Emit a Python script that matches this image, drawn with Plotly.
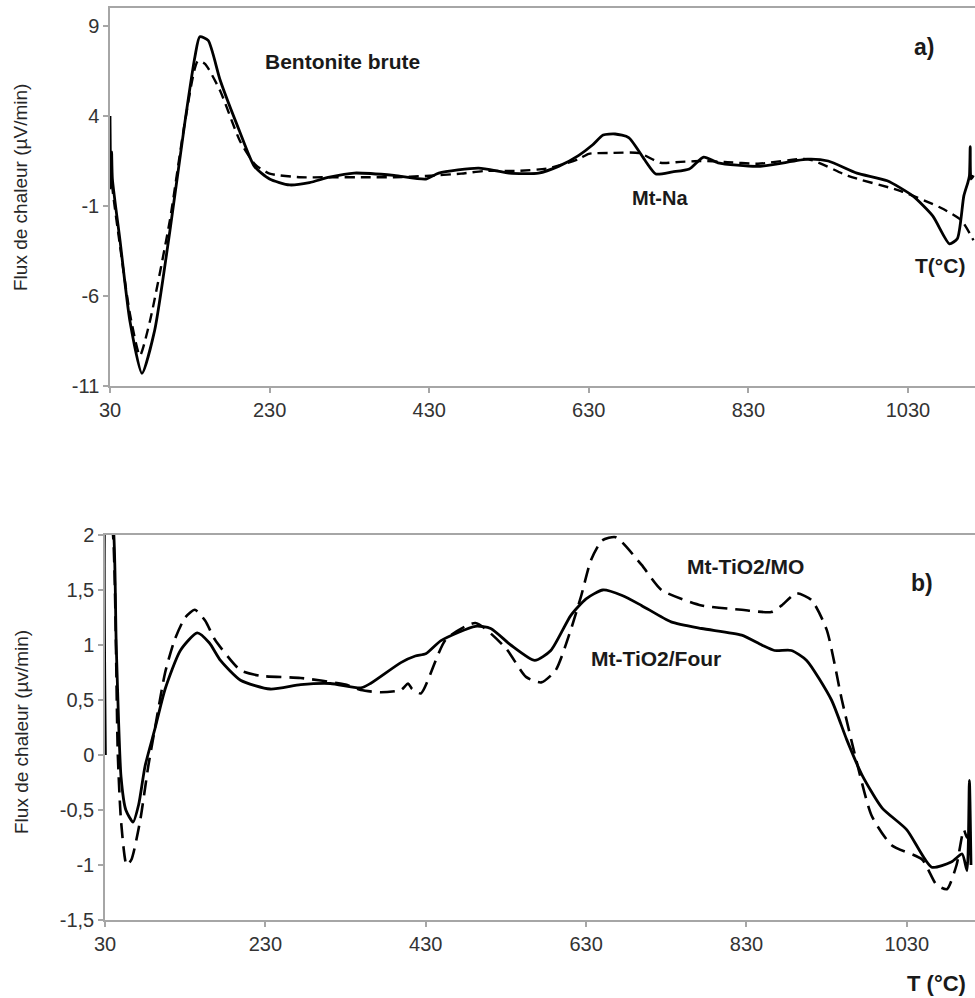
import plotly.graph_objects as go

# ---------- Panel a) ----------
a_solid_T = [30, 31, 32, 33, 42.5, 55, 70, 86, 105, 124, 136.5, 142.5, 153, 168, 192, 211, 230, 255, 280, 305,
             336, 386, 426, 442, 492, 530, 567, 592, 617, 635, 648, 663, 680, 701, 714, 735, 756, 774, 792, 842,
             905, 930, 966, 1004, 1036, 1061, 1082, 1092, 1100, 1105, 1107, 1108, 1109, 1112]
a_solid_F = [4.0, 0.0, 2.0, 0.5, -2.9, -7.4, -10.3, -7.9, -2.4, 3.7, 7.3, 8.4, 8.2, 6.0, 3.2, 1.2, 0.5, 0.17, 0.3, 0.6,
             0.83, 0.7, 0.5, 0.83, 1.1, 0.83, 0.83, 1.2, 1.8, 2.4, 2.94, 3.0, 2.8, 1.5, 0.78, 0.9, 1.06, 1.72, 1.4, 1.2,
             1.6, 1.5, 0.83, 0.4, -0.44, -1.55, -3.1, -2.8, -0.44, 0.3, 0.67, 2.3, 0.5, 0.7]

a_dash_T = [30, 33, 42.5, 55, 67.5, 80, 105, 124, 140, 149, 168, 193, 212, 230, 267, 305, 350, 386, 426, 470,
            500, 540, 580, 617, 630, 660, 693, 720, 745, 770, 800, 842, 905, 955, 1021, 1071, 1097, 1112]
a_dash_F = [2.0, 0.0, -3.2, -7.0, -9.3, -7.4, -1.8, 3.7, 7.05, 6.9, 5.4, 2.6, 1.3, 0.8, 0.6, 0.6, 0.6, 0.6, 0.67, 0.8,
            0.95, 0.95, 1.1, 1.6, 1.9, 1.95, 1.94, 1.4, 1.45, 1.5, 1.45, 1.35, 1.6, 0.67, -0.17, -1.1, -1.8, -2.9]

# ---------- Panel b) ----------
b_four_T = [30.5, 31, 32, 40, 44, 50, 56, 65, 72, 80, 92, 105, 124, 145, 160, 174, 199, 236, 274, 311, 349, 361,
            399, 417, 430, 449, 492, 511, 536, 566, 586, 611, 630, 651, 675, 699, 736, 774, 824, 849, 865, 886, 905,
            936, 955, 974, 999, 1030, 1061, 1086, 1099, 1105, 1108, 1110]
b_four_F = [0.0, 2.3, 2.3, 2.1, 1.0, -0.2, -0.5, -0.61, -0.45, -0.1, 0.23, 0.6, 0.95, 1.11, 1.02, 0.86, 0.68, 0.6,
            0.64, 0.65, 0.61, 0.65, 0.84, 0.9, 0.92, 1.04, 1.17, 1.15, 1.0, 0.86, 0.95, 1.27, 1.42, 1.5, 1.45, 1.36,
            1.21, 1.15, 1.09, 1.0, 0.95, 0.95, 0.86, 0.5, 0.14, -0.18, -0.48, -0.68, -1.02, -0.97, -0.9, -1.05, -0.23,
            -1.0]

b_mo_T = [33, 40, 46, 50, 57, 63, 74, 84, 92, 105, 117, 130, 142, 155, 167, 199, 224, 274, 330, 349, 374, 399,
          408, 413, 424, 455, 492, 530, 555, 574, 592, 611, 624, 636, 650, 667, 699, 724, 774, 824, 861, 874, 892,
          911, 930, 949, 967, 986, 1011, 1049, 1067, 1080, 1092, 1101, 1105, 1109]
b_mo_F = [2.3, 2.0, 0.0, -0.6, -1.0, -0.95, -0.59, -0.1, 0.23, 0.75, 1.05, 1.25, 1.32, 1.22, 1.05, 0.77, 0.72, 0.7,
          0.64, 0.59, 0.57, 0.59, 0.65, 0.6, 0.56, 1.05, 1.2, 0.97, 0.71, 0.66, 0.77, 1.14, 1.45, 1.77, 1.95, 1.98,
          1.73, 1.5, 1.36, 1.32, 1.3, 1.36, 1.47, 1.41, 1.14, 0.5, -0.05, -0.55, -0.82, -0.95, -1.18, -1.22, -1.0,
          -0.68, -0.75, -0.7]

a_yticks = [-11, -6, -1, 4, 9]
a_yticklabels = ["-11", "-6", "-1", "4", "9"]
b_yticks = [-1.5, -1, -0.5, 0, 0.5, 1, 1.5, 2]
b_yticklabels = ["-1,5", "-1", "-0,5", "0", "0,5", "1", "1,5", "2"]
x_ticks = [30, 230, 430, 630, 830, 1030]
x_ticklabels = ["30", "230", "430", "630", "830", "1030"]

W, H = 975, 998
fig = go.Figure()

line_solid = dict(color="black", width=2.8, shape="spline", smoothing=0.6)
fig.add_trace(go.Scatter(x=a_solid_T, y=a_solid_F, mode="lines", line=line_solid,
                         name="Bentonite brute", xaxis="x", yaxis="y"))
fig.add_trace(go.Scatter(x=a_dash_T, y=a_dash_F, mode="lines",
                         line=dict(color="black", width=2.4, dash="10px,6px", shape="spline", smoothing=0.6),
                         name="Mt-Na", xaxis="x", yaxis="y"))
fig.add_trace(go.Scatter(x=b_four_T, y=b_four_F, mode="lines", line=line_solid,
                         name="Mt-TiO2/Four", xaxis="x2", yaxis="y2"))
fig.add_trace(go.Scatter(x=b_mo_T, y=b_mo_F, mode="lines",
                         line=dict(color="black", width=2.6, dash="15px,8px", shape="spline", smoothing=0.6),
                         name="Mt-TiO2/MO", xaxis="x2", yaxis="y2"))

axcol = "#a6a6a6"
FONT = "Liberation Sans"
tickfont = dict(family=FONT, size=20, color="#333333")

common_x = dict(showgrid=False, zeroline=False, showline=True, linecolor=axcol, linewidth=1.5,
                mirror=True, ticks="outside", ticklen=5, tickcolor=axcol, tickwidth=1.5,
                tickvals=x_ticks, ticktext=x_ticklabels, tickfont=tickfont, automargin=False)
common_y = dict(showgrid=False, zeroline=False, showline=True, linecolor=axcol, linewidth=1.5,
                ticks="outside", ticklen=5, tickcolor=axcol, tickwidth=1.5, tickfont=tickfont,
                automargin=False)

fig.update_layout(
    width=W, height=H,
    margin=dict(l=0, r=0, t=0, b=0),
    paper_bgcolor="white", plot_bgcolor="white",
    showlegend=False,
    xaxis=dict(domain=[110 / W, 1], range=[30, 1114], anchor="y", **common_x),
    yaxis=dict(domain=[1 - 386 / H, 1 - 8 / H], range=[-11, 10], anchor="x",
               tickvals=a_yticks, ticktext=a_yticklabels, **common_y),
    xaxis2=dict(domain=[105 / W, 1], range=[30, 1115], anchor="y2", **common_x),
    yaxis2=dict(domain=[1 - 920 / H, 1 - 535 / H], range=[-1.5, 2], anchor="x2",
                tickvals=b_yticks, ticktext=b_yticklabels, **common_y),
)

def px_ann(text, x, y, size=14, bold=True, angle=0, color="#1a1a1a"):
    t = f"<b>{text}</b>" if bold else text
    fig.add_annotation(x=x / W, y=1 - y / H, xref="paper", yref="paper", text=t, showarrow=False,
                       textangle=angle, xanchor="center", yanchor="middle",
                       font=dict(family=FONT, size=size, color=color))

px_ann("Bentonite brute", 342, 61, size=21)
px_ann("a)", 924, 47, size=23)
px_ann("Mt-Na", 660, 198, size=20)
px_ann("T(°C)", 940, 266, size=21)
px_ann("Flux de chaleur (µV/min)", 21, 188, size=19, bold=False, angle=-90, color="#262626")

px_ann("Mt-TiO2/MO", 745, 566, size=21)
px_ann("b)", 922, 583, size=23)
px_ann("Mt-TiO2/Four", 656, 658, size=21)
px_ann("T (°C)", 936, 983, size=22)
px_ann("Flux de chaleur (µv/min)", 21, 732, size=19, bold=False, angle=-90, color="#262626")

fig.write_html("out.html", config={"displayModeBar": False},
               post_script="document.body.style.margin='0';document.body.style.overflow='hidden';")
